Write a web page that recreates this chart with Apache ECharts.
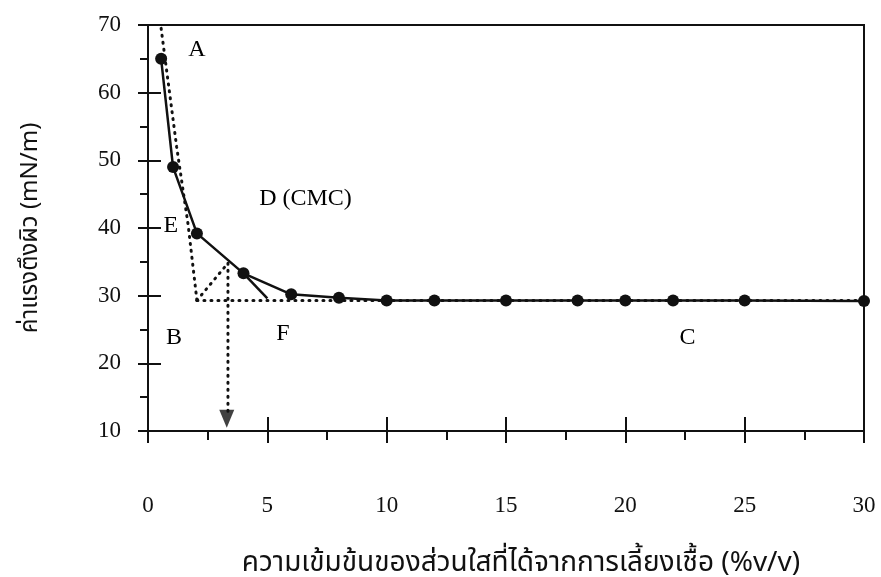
<!DOCTYPE html>
<html>
<head>
<meta charset="utf-8">
<script src="https://cdn.jsdelivr.net/npm/echarts@6/dist/echarts.min.js"></script>
<style>
html,body{margin:0;padding:0;background:#fff;}
#c{width:881px;height:577px;}
</style>
</head>
<body>
<div id="c"></div>
<script>
// ---- data ----
var concX = [0.55, 1.05, 2.05, 4, 6, 8, 10, 12, 15, 18, 20, 22, 25, 30];
var tensionY = [65, 49, 39.2, 33.3, 30.2, 29.7, 29.3, 29.3, 29.3, 29.3, 29.3, 29.3, 29.3, 29.2];
var tangentAB = [[0.55, 69.5], [1.2, 52], [1.68, 40.5], [2.05, 29.3]];
var baselineBC = [[2.05, 29.3], [30, 29.3]];
var bisector = [[2.05, 29.3], [3.35, 34.8]];
var cmcDrop = [[3.35, 34.8], [3.35, 12.5]];
var tangentEF = [[4, 33.3], [5.0, 29.6]];
var arrowPt = [[3.3, 11.8]];
var annotations = [
  [2.05, 66.3, 'A'],
  [6.6, 44.4, 'D (CMC)'],
  [0.96, 40.4, 'E'],
  [1.09, 23.8, 'B'],
  [5.65, 24.4, 'F'],
  [22.6, 23.8, 'C']
];
var xTicks = [0, 5, 10, 15, 20, 25, 30];
var yTicks = [10, 20, 30, 40, 50, 60, 70];
var xTitle = 'ความเข้มข้นของส่วนใสที่ได้จากการเลี้ยงเชื้อ (%v/v)';
var yTitle = 'ค่าแรงตึงผิว (mN/m)';

var serif = '"Liberation Serif", "DejaVu Serif", serif';
var thai = '"Noto Sans Thai", "Loma", "Garuda", "Norasi", "Noto Sans", sans-serif';
var ink = '#111111';

function pairs(xs, ys) { return xs.map(function (x, i) { return [x, ys[i]]; }); }

var chart = echarts.init(document.getElementById('c'), null, {renderer: 'canvas'});

var dotted = {color: ink, width: 3, type: [1, 6], cap: 'round'};

var baseX = {
  type: 'value', min: xTicks[0], max: xTicks[xTicks.length - 1], interval: 5,
  position: 'bottom', splitLine: {show: false}
};
var baseY = {
  type: 'value', min: yTicks[0], max: yTicks[yTicks.length - 1], interval: 10,
  position: 'left', splitLine: {show: false}
};

var option = {
  backgroundColor: '#ffffff',
  animation: false,
  grid: {left: 148, top: 25, right: 17, bottom: 146, containLabel: false,
         outerBoundsMode: 'none',
         show: true, borderColor: ink, borderWidth: 2},
  xAxis: [
    Object.assign({}, baseX, {
      axisLine: {show: true, lineStyle: {color: ink, width: 2}},
      axisTick: {show: true, inside: false, length: 12, lineStyle: {color: ink, width: 2}},
      minorTick: {show: true, splitNumber: 2, length: 9, lineStyle: {color: ink, width: 2}},
      axisLabel: {margin: 63, color: ink, fontFamily: serif, fontSize: 23},
      name: xTitle, nameLocation: 'middle', nameGap: 120,
      nameTextStyle: {color: ink, fontSize: 28, fontFamily: thai, padding: [0, 0, 0, 30]}
    }),
    Object.assign({}, baseX, {
      axisLine: {show: false},
      axisTick: {show: true, inside: true, length: 14, lineStyle: {color: ink, width: 2}},
      axisLabel: {show: false}
    })
  ],
  yAxis: [
    Object.assign({}, baseY, {
      axisLine: {show: true, lineStyle: {color: ink, width: 2}},
      axisTick: {show: true, inside: false, length: 10, lineStyle: {color: ink, width: 2}},
      minorTick: {show: true, splitNumber: 2, length: 8, lineStyle: {color: ink, width: 2}},
      axisLabel: {margin: 27, color: ink, fontFamily: serif, fontSize: 23},
      name: yTitle, nameLocation: 'middle', nameGap: 104, nameRotate: 90,
      nameTextStyle: {color: ink, fontSize: 24, fontFamily: thai}
    }),
    Object.assign({}, baseY, {
      axisLine: {show: false},
      axisTick: {show: true, inside: true, length: 13, lineStyle: {color: ink, width: 2}},
      axisLabel: {show: false}
    })
  ],
  series: [
    {type: 'line', data: tangentAB, symbol: 'none', lineStyle: dotted, silent: true, z: 2},
    {type: 'line', data: baselineBC, symbol: 'none', lineStyle: dotted, silent: true, z: 2},
    {type: 'line', data: bisector, symbol: 'none', lineStyle: dotted, silent: true, z: 2},
    {type: 'line', data: cmcDrop, symbol: 'none', lineStyle: dotted, silent: true, z: 2},
    {type: 'line', data: tangentEF, symbol: 'none', lineStyle: {color: ink, width: 2.5}, silent: true, z: 3},
    {type: 'line', data: pairs(concX, tensionY), symbol: 'circle', symbolSize: 12,
     itemStyle: {color: ink}, lineStyle: {color: ink, width: 2.5}, silent: true, z: 4},
    {type: 'scatter', data: arrowPt, symbol: 'triangle', symbolRotate: 180, symbolSize: [15, 18],
     itemStyle: {color: ink}, silent: true, z: 4},
    {type: 'scatter', symbol: 'circle', symbolSize: 1, silent: true, z: 5,
     itemStyle: {color: '#ffffff', opacity: 0},
     data: annotations.map(function (a) { return {value: [a[0], a[1]], name: a[2]}; }),
     label: {show: true, position: 'inside', formatter: function (p) { return p.name; },
             color: '#000000', opacity: 1, textBorderWidth: 0, fontFamily: serif, fontSize: 24}}
  ]
};
chart.setOption(option);
</script>
</body>
</html>
